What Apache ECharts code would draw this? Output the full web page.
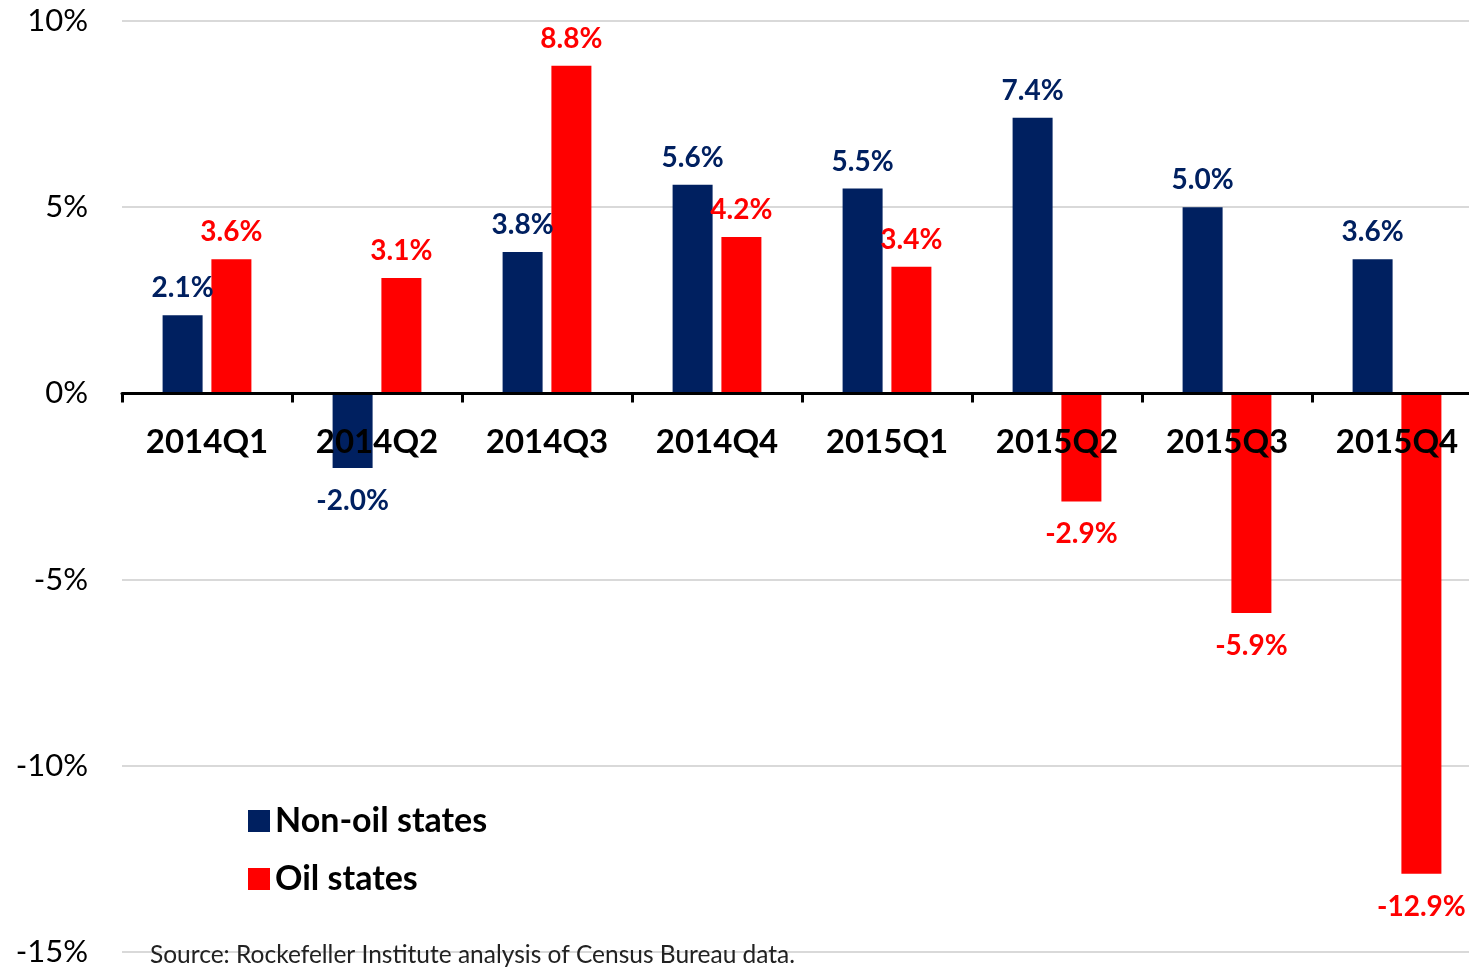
<!DOCTYPE html>
<html>
<head>
<meta charset="utf-8">
<script src="https://cdn.jsdelivr.net/npm/echarts@6/dist/echarts.min.js"></script>
<style>
html,body{margin:0;padding:0;background:#fff;}
#chart{width:1469px;height:968px;}
</style>
</head>
<body>
<div id="chart"></div>
<script>
var categories = ['2014Q1','2014Q2','2014Q3','2014Q4','2015Q1','2015Q2','2015Q3','2015Q4'];
var nonOil = [2.1, -2.0, 3.8, 5.6, 5.5, 7.4, 5.0, 3.6];
var oil = [3.6, 3.1, 8.8, 4.2, 3.4, -2.9, -5.9, -12.9];
var seriesNames = ['Non-oil states', 'Oil states'];
var sourceText = 'Source: Rockefeller Institute analysis of Census Bureau data.';

var NAVY = '#002060', RED = '#FF0000';
var FONT = 'Lato';
var Y_MIN = -15, Y_MAX = 10;
var GRID_TOP = 21, GRID_BOTTOM = 16, CHART_H = 968;

function items(arr){
  return arr.map(function(v){
    return {value: v, label: v < 0 ? {position: 'bottom', distance: 19} : {position: 'top', distance: 13}};
  });
}

// distance from grid bottom edge up to the zero line (axis placed at value 0)
var plotH = CHART_H - GRID_TOP - GRID_BOTTOM;
var zeroOffset = plotH * (0 - Y_MIN) / (Y_MAX - Y_MIN);

var chart = echarts.init(document.getElementById('chart'));
chart.setOption({
  animation: false,
  textStyle: {fontFamily: FONT},
  grid: {left: 122, top: GRID_TOP, bottom: GRID_BOTTOM, width: 1360, containLabel: false, outerBoundsMode: 'none'},
  legend: {
    orient: 'vertical', left: 243, top: 799,
    itemWidth: 22, itemHeight: 22, itemGap: 24,
    icon: 'rect',
    textStyle: {fontFamily: FONT, fontWeight: 'bold', fontSize: 34, color: '#000'},
    data: seriesNames
  },
  xAxis: {
    type: 'category', data: categories, z: 5,
    offset: -zeroOffset,
    axisLine: {onZero: false, lineStyle: {color: '#000', width: 3}},
    axisTick: {show: true, length: 9, lineStyle: {color: '#000', width: 3}},
    axisLabel: {fontFamily: FONT, fontWeight: 'bold', fontSize: 33, color: '#000', margin: 32, interval: 0},
    splitLine: {show: false}
  },
  yAxis: {
    type: 'value', min: Y_MIN, max: Y_MAX, interval: 5,
    axisLine: {show: false}, axisTick: {show: false},
    axisLabel: {formatter: '{value}%', fontFamily: FONT, fontSize: 31, color: '#000', margin: 34},
    splitLine: {lineStyle: {color: '#d9d9d9', width: 2}}
  },
  series: [
    {
      name: seriesNames[0], type: 'bar', data: items(nonOil),
      barWidth: 40, barGap: '22%',
      itemStyle: {color: NAVY},
      label: {show: true, formatter: function(p){return p.value.toFixed(1) + '%';},
              fontFamily: FONT, fontWeight: 'bold', fontSize: 28, color: NAVY}
    },
    {
      name: seriesNames[1], type: 'bar', data: items(oil),
      barWidth: 40, barGap: '22%',
      itemStyle: {color: RED},
      label: {show: true, formatter: function(p){return p.value.toFixed(1) + '%';},
              fontFamily: FONT, fontWeight: 'bold', fontSize: 28, color: RED}
    }
  ],
  graphic: [{
    type: 'text', left: 150, top: 943, z: 10,
    style: {text: sourceText, fontFamily: FONT, fontSize: 24.5, fill: '#222'}
  }]
});
</script>
</body>
</html>
